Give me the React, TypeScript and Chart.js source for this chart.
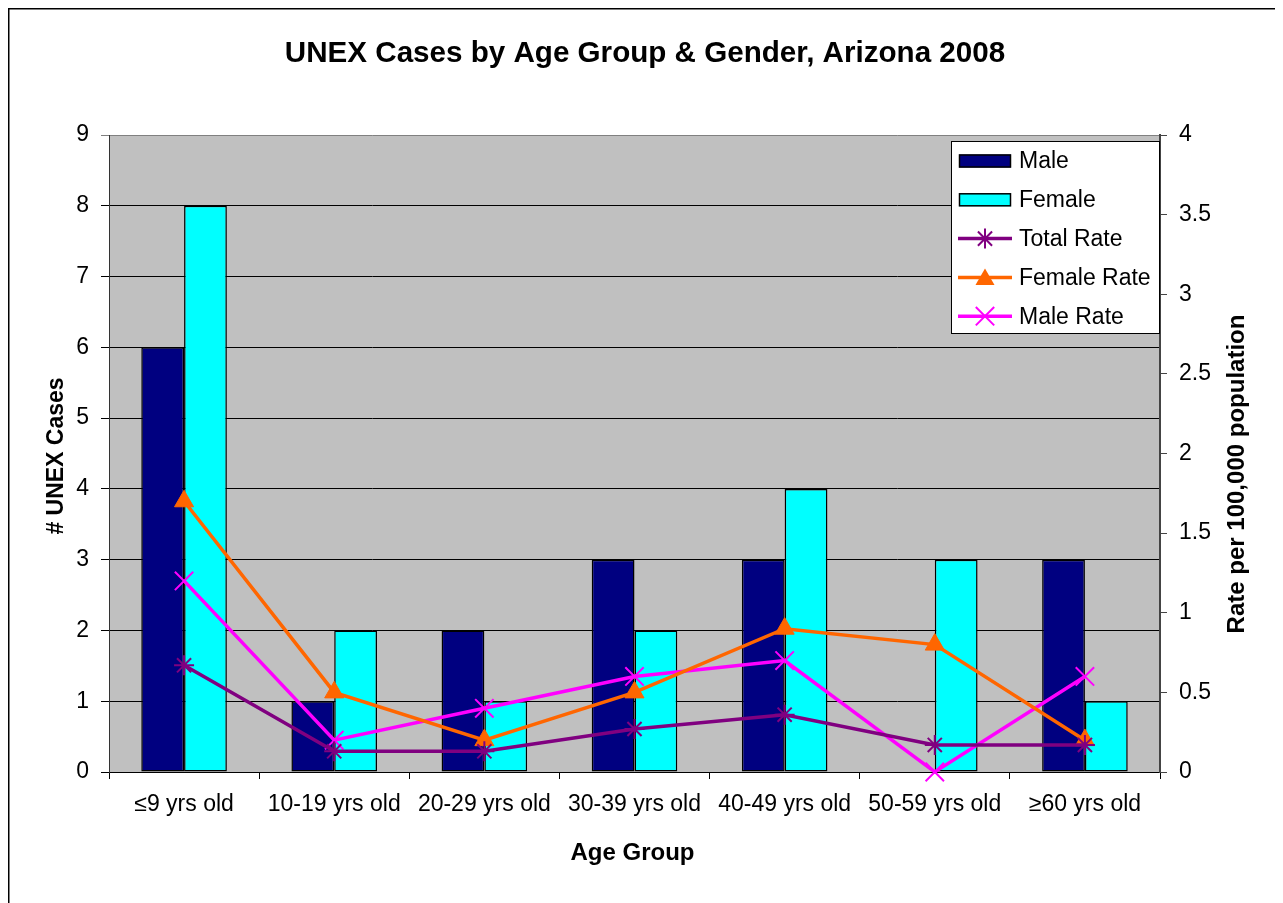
import React, { useEffect, useRef } from "react";
import { Chart, registerables } from "chart.js";

Chart.register(...registerables);

const categories = ["≤9 yrs old", "10-19 yrs old", "20-29 yrs old", "30-39 yrs old", "40-49 yrs old", "50-59 yrs old", "≥60 yrs old"];
const maleCases = [6, 1, 2, 3, 3, 0, 3];
const femaleCases = [8, 2, 1, 2, 4, 3, 1];
const totalRate = [0.67, 0.13, 0.13, 0.27, 0.36, 0.17, 0.17];
const femaleRate = [1.7, 0.5, 0.2, 0.5, 0.9, 0.8, 0.2];
const maleRate = [1.2, 0.2, 0.4, 0.6, 0.7, 0, 0.6];

const chartTitle = "UNEX Cases by Age Group & Gender, Arizona 2008";
const leftTitle = "# UNEX Cases";
const rightTitle = "Rate per 100,000 population";
const xTitle = "Age Group";

const NAVY = "#000080";
const CYAN = "#00FFFF";
const PURPLE = "#800080";
const ORANGE = "#FF6600";
const MAGENTA = "#FF00FF";
const FONT = "'Liberation Sans', Arial, sans-serif";

const W = 1275;
const H = 895;
const AREA = { left: 101, right: 1152, top: 127, bottom: 764 };

function drawMarker(ctx: CanvasRenderingContext2D, style: string, x: number, y: number, r: number, color: string) {
  ctx.save();
  ctx.strokeStyle = color;
  ctx.fillStyle = color;
  ctx.lineWidth = 2;
  ctx.beginPath();
  if (style === "triangle") {
    const a = (2 * Math.PI) / 3;
    ctx.moveTo(x, y - r);
    ctx.lineTo(x + Math.sin(a) * r, y - Math.cos(a) * r);
    ctx.lineTo(x + Math.sin(2 * a) * r, y - Math.cos(2 * a) * r);
    ctx.closePath();
    ctx.fill();
  } else {
    if (style === "star") {
      ctx.moveTo(x - r, y);
      ctx.lineTo(x + r, y);
      ctx.moveTo(x, y - r);
      ctx.lineTo(x, y + r);
    }
    const d = r * Math.SQRT1_2;
    ctx.moveTo(x - d, y - d);
    ctx.lineTo(x + d, y + d);
    ctx.moveTo(x + d, y - d);
    ctx.lineTo(x - d, y + d);
    ctx.stroke();
  }
  ctx.restore();
}

const decorPlugin = {
  id: "decor",
  beforeDraw(chart: any) {
    const { ctx, chartArea } = chart;
    ctx.save();
    ctx.fillStyle = "#FFFFFF";
    ctx.fillRect(0, 0, W, H);
    ctx.fillStyle = "#C0C0C0";
    ctx.fillRect(chartArea.left, chartArea.top, chartArea.right - chartArea.left, chartArea.bottom - chartArea.top);
    ctx.restore();
  },
  afterDraw(chart: any) {
    const { ctx, chartArea } = chart;
    ctx.save();
    // outer chart border (left/top visible)
    ctx.strokeStyle = "#000";
    ctx.lineWidth = 1.5;
    ctx.beginPath();
    ctx.moveTo(0.75, H);
    ctx.lineTo(0.75, 0.75);
    ctx.lineTo(W, 0.75);
    ctx.stroke();

    ctx.fillStyle = "#000";
    // Title
    ctx.font = `bold 29.6px ${FONT}`;
    ctx.textAlign = "center";
    ctx.textBaseline = "alphabetic";
    ctx.fillText(chartTitle, 637, 54);
    // X title
    ctx.font = `bold 24px ${FONT}`;
    ctx.fillText(xTitle, (chartArea.left + chartArea.right) / 2 - 2, 852);
    // Left title
    ctx.save();
    ctx.translate(49, 448);
    ctx.rotate(-Math.PI / 2);
    ctx.textBaseline = "middle";
    ctx.font = `bold 23px ${FONT}`;
    ctx.fillText(leftTitle, 0, 0);
    ctx.restore();
    // Right title
    ctx.save();
    ctx.translate(1229, 466);
    ctx.rotate(-Math.PI / 2);
    ctx.textBaseline = "middle";
    ctx.font = `bold 24px ${FONT}`;
    ctx.fillText(rightTitle, 0, 0);
    ctx.restore();

    // Legend
    const lx = 943, ly = 133, lw = 209, lh = 193;
    ctx.fillStyle = "#FFFFFF";
    ctx.fillRect(lx, ly, lw, lh);
    ctx.strokeStyle = "#000";
    ctx.lineWidth = 1;
    ctx.strokeRect(lx + 0.5, ly + 0.5, lw - 1, lh - 1);
    const items = [
      { label: "Male", type: "bar", color: NAVY },
      { label: "Female", type: "bar", color: CYAN },
      { label: "Total Rate", type: "line", color: PURPLE, style: "star", r: 10 },
      { label: "Female Rate", type: "line", color: ORANGE, style: "triangle", r: 11 },
      { label: "Male Rate", type: "line", color: MAGENTA, style: "crossRot", r: 13 },
    ];
    ctx.font = `23px ${FONT}`;
    ctx.textAlign = "left";
    ctx.textBaseline = "middle";
    items.forEach((it: any, i: number) => {
      const cy = 153 + i * 38.8;
      if (it.type === "bar") {
        ctx.fillStyle = it.color;
        ctx.fillRect(951, cy - 6.5, 52, 13);
        ctx.strokeStyle = "#000";
        ctx.lineWidth = 1.5;
        ctx.strokeRect(951.5, cy - 6, 51, 12);
      } else {
        ctx.strokeStyle = it.color;
        ctx.lineWidth = 3.5;
        ctx.beginPath();
        ctx.moveTo(950, cy);
        ctx.lineTo(1004, cy);
        ctx.stroke();
        drawMarker(ctx, it.style, 977, it.style === "triangle" ? cy + 2 : cy, it.r, it.color);
      }
      ctx.fillStyle = "#000";
      ctx.fillText(it.label, 1011, cy + 1);
    });
    ctx.restore();
  },
};

export default function App() {
  const ref = useRef<HTMLCanvasElement | null>(null);

  useEffect(() => {
    if (!ref.current) return;
    const prevOverflow = document.body.style.overflow;
    document.body.style.overflow = "hidden";
    Chart.defaults.font.family = FONT;
    Chart.defaults.color = "#000";
    const lineCommon = {
      type: "line" as const,
      yAxisID: "y2",
      borderWidth: 3.5,
      pointBorderWidth: 2,
      fill: false,
      tension: 0,
      clip: false as any,
      order: 0,
    };
    const barCommon = {
      type: "bar" as const,
      borderColor: "#000",
      borderWidth: 1.5,
      borderSkipped: false,
      yAxisID: "y",
      categoryPercentage: 0.57,
      barPercentage: 1.0,
      order: 1,
    };
    const chart = new Chart(ref.current, {
      type: "bar",
      data: {
        labels: categories,
        datasets: [
          {
            ...lineCommon,
            label: "Total Rate",
            data: totalRate,
            borderColor: PURPLE,
            backgroundColor: PURPLE,
            pointStyle: "star",
            pointRadius: 10,
          } as any,
          {
            ...lineCommon,
            label: "Female Rate",
            data: femaleRate,
            borderColor: ORANGE,
            backgroundColor: ORANGE,
            pointStyle: "triangle",
            pointRadius: 11,
            pointBorderWidth: 1,
          } as any,
          {
            ...lineCommon,
            label: "Male Rate",
            data: maleRate,
            borderColor: MAGENTA,
            backgroundColor: MAGENTA,
            pointStyle: "crossRot",
            pointRadius: 13,
          } as any,
          {
            ...barCommon,
            label: "Male",
            data: maleCases,
            backgroundColor: NAVY,
          } as any,
          {
            ...barCommon,
            label: "Female",
            data: femaleCases,
            backgroundColor: CYAN,
          } as any,
        ],
      },
      options: {
        responsive: false,
        animation: false,
        devicePixelRatio: 1,
        layout: { padding: { top: AREA.top, left: 0, right: 0, bottom: 0 } },
        plugins: {
          legend: { display: false },
          title: { display: false },
          tooltip: { enabled: false },
        },
        scales: {
          x: {
            type: "category",
            offset: true,
            grid: {
              offset: true,
              drawOnChartArea: false,
              drawTicks: true,
              tickLength: 7,
              color: "#000",
            },
            border: { display: true, color: "#000", width: 1 },
            ticks: { font: { size: 23 }, color: "#000", padding: 12, maxRotation: 0, autoSkip: false },
            afterFit: (s: any) => {
              s.height = H - AREA.bottom;
            },
          },
          y: {
            type: "linear",
            position: "left",
            min: 0,
            max: 9,
            ticks: { stepSize: 1, font: { size: 23 }, color: "#000", padding: 12 },
            grid: {
              color: (c: any) => (c.tick && c.tick.value === 9 ? "#808080" : "#000"),
              tickLength: 8,
              lineWidth: 1,
            },
            border: { display: true, color: "#333", width: 1 },
            afterFit: (s: any) => {
              s.width = AREA.left;
            },
          },
          y2: {
            type: "linear",
            position: "right",
            min: 0,
            max: 4,
            ticks: {
              stepSize: 0.5,
              font: { size: 23 },
              color: "#000",
              padding: 12,
              callback: (v: any) => String(Number(v)),
            },
            grid: { drawOnChartArea: false, tickLength: 7, color: "#444" },
            border: { display: true, color: "#444", width: 2 },
            afterFit: (s: any) => {
              s.width = W - AREA.right;
            },
          },
        },
      },
      plugins: [decorPlugin],
    } as any);
    return () => {
      chart.destroy();
      document.body.style.overflow = prevOverflow;
    };
  }, []);

  return (
    <div style={{ width: W, height: H }}>
      <canvas ref={ref} width={W} height={H} style={{ display: "block", width: W, height: H }} />
    </div>
  );
}
